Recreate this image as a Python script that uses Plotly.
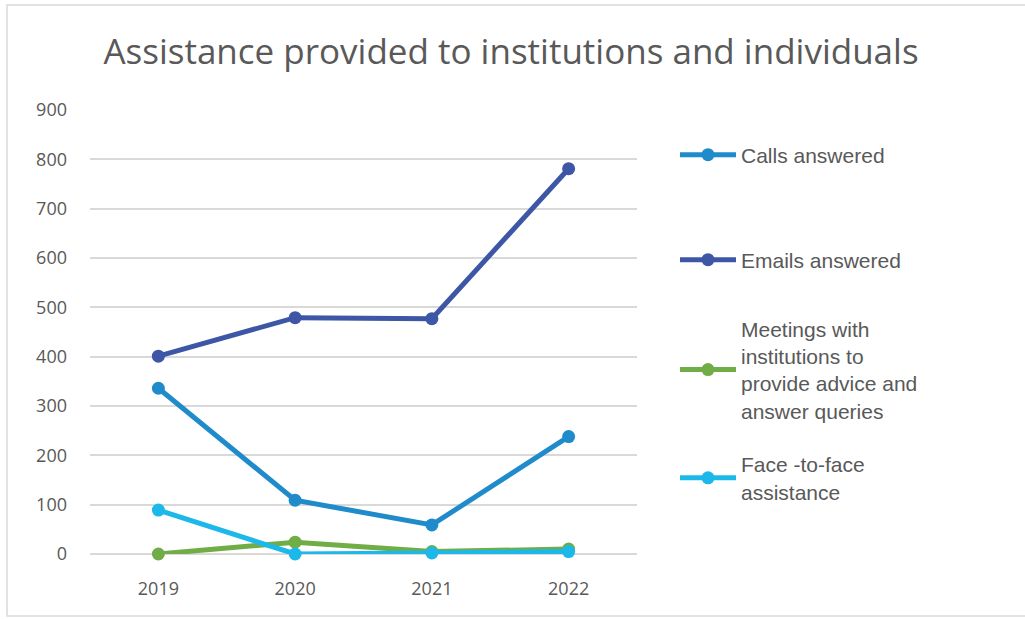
import plotly.graph_objects as go

# Yearly counts of assistance provided
years = ["2019", "2020", "2021", "2022"]
calls_answered = [336, 109, 59, 238]
emails_answered = [401, 479, 477, 781]
meetings = [0, 24, 5, 10]
face_to_face = [89, 0, 2, 5]

series_names = [
    "Calls answered",
    "Emails answered",
    "Meetings with<br>institutions to<br>provide advice and<br>answer queries",
    "Face -to-face<br>assistance",
]
series_values = [calls_answered, emails_answered, meetings, face_to_face]
series_colors = ["#1F8BCB", "#3D56A6", "#70AD47", "#1DB8EA"]
legend_ids = ["legend", "legend2", "legend3", "legend4"]

# plot-area geometry in pixels (used to place legends / frame in paper units)
W, H = 1025, 619
L, R, T, B = 90, 637, 110, 554
pw, ph = R - L, B - T


def px_x(x):
    return (x - L) / pw


def px_y(y):
    return (B - y) / ph


fig = go.Figure()
for name, vals, color, lg in zip(series_names, series_values, series_colors, legend_ids):
    fig.add_trace(go.Scatter(
        x=years, y=vals, name=name, mode="lines+markers",
        line=dict(color=color, width=5),
        marker=dict(color=color, size=13),
        cliponaxis=False, legend=lg,
    ))

legend_font = dict(family="Liberation Sans, Arial, sans-serif", size=21, color="#595959")
legend_y = [155, 260, 370, 478]
legend_x = [675, 675, 675, 675]
for lg, lx, ly in zip(legend_ids, legend_x, legend_y):
    fig.update_layout({lg: dict(
        x=px_x(lx), y=px_y(ly), xanchor="left", yanchor="middle",
        font=legend_font, bgcolor="rgba(0,0,0,0)", itemwidth=56,
        tracegroupgap=0,
    )})

fig.update_layout(
    width=W, height=H,
    margin=dict(l=L, r=W - R, t=T, b=H - B),
    paper_bgcolor="white", plot_bgcolor="white",
    showlegend=True,
    title=dict(
        text="Assistance provided to institutions and individuals",
        x=511 / W, xanchor="center", y=1 - 52 / H, yanchor="middle",
        font=dict(family="Open Sans, sans-serif", size=35, color="#595959"),
    ),
    xaxis=dict(
        type="category", range=[-0.5, 3.5], showgrid=False, zeroline=False,
        showline=False, ticks="", ticklabelstandoff=22,
        tickfont=dict(family="Open Sans, sans-serif", size=18, color="#595959"),
    ),
    yaxis=dict(
        range=[0, 900], dtick=100, showgrid=True, gridcolor="#D9D9D9", gridwidth=1.5,
        zeroline=True, zerolinecolor="#D9D9D9", zerolinewidth=1.5,
        showline=False, ticks="", ticklabelstandoff=22,
        tickfont=dict(family="Open Sans, sans-serif", size=18, color="#595959"),
    ),
    shapes=[dict(
        type="rect", xref="paper", yref="paper",
        x0=px_x(7), x1=px_x(1040), y0=px_y(616), y1=px_y(5),
        line=dict(color="#D9D9D9", width=1.5), fillcolor="rgba(0,0,0,0)", layer="below",
    )],
)

fig.write_html("out.html")
